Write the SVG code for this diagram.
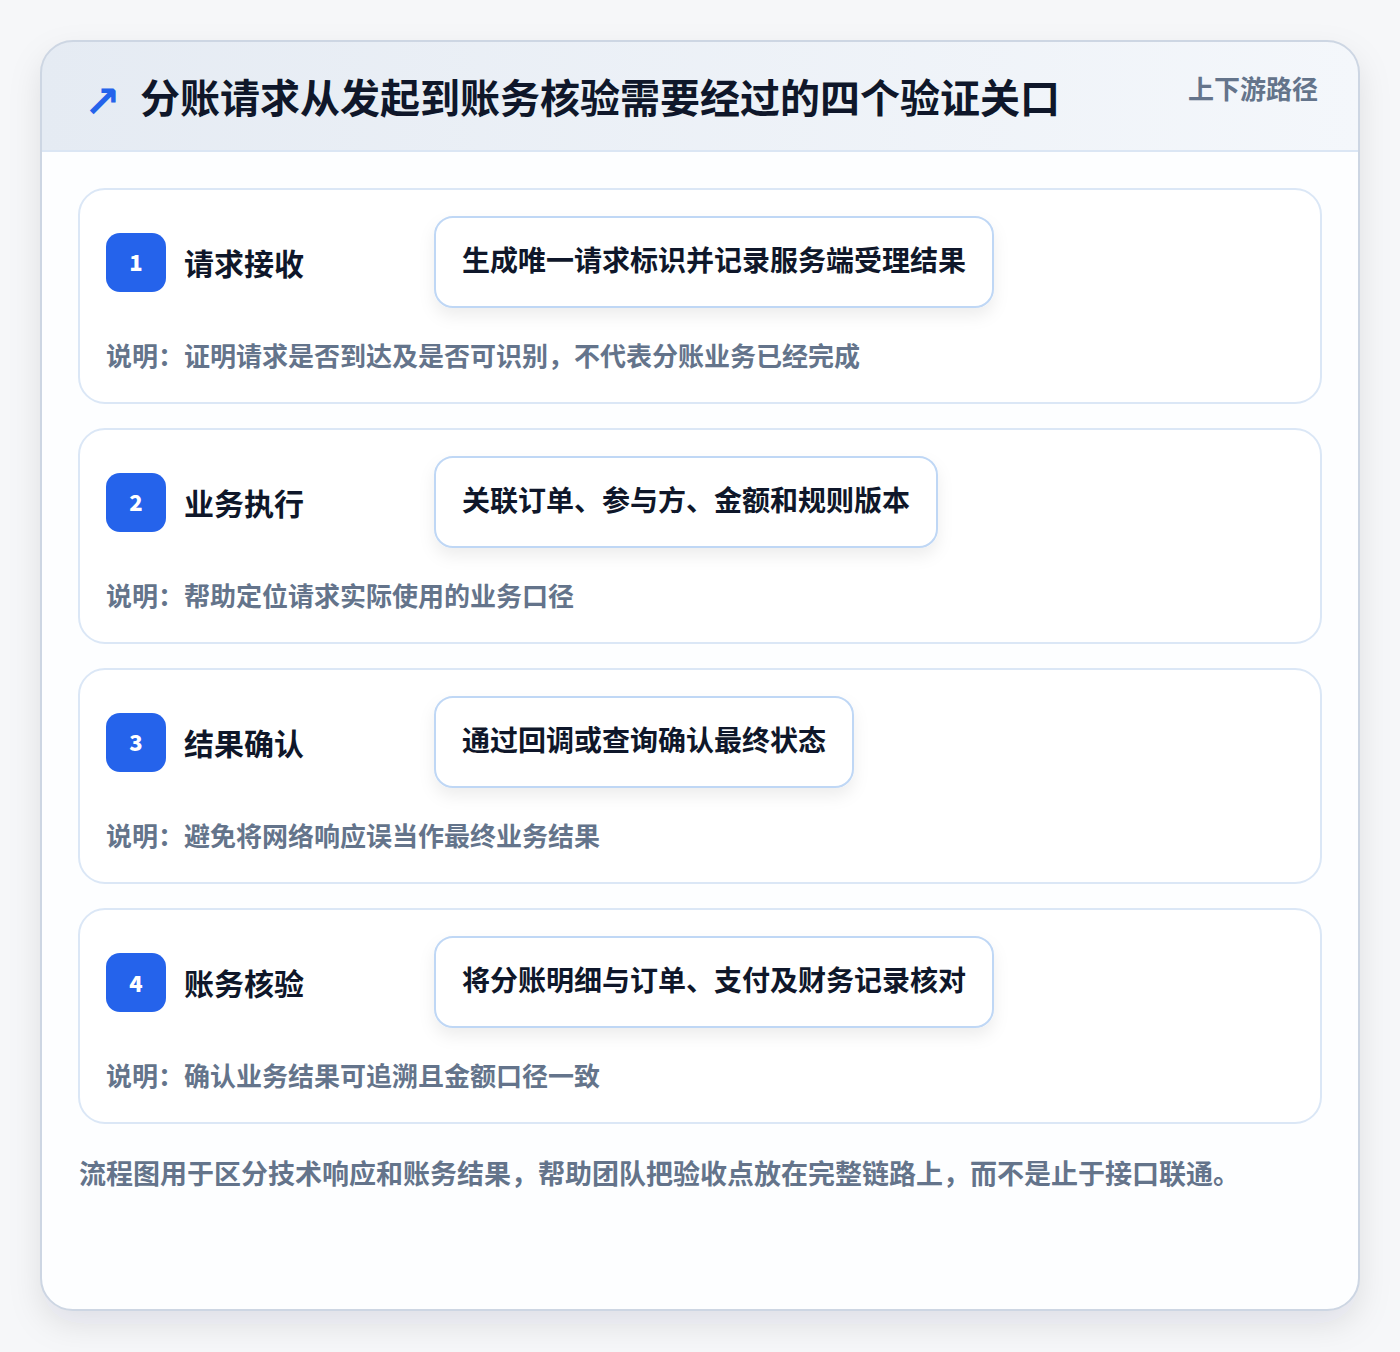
<svg xmlns="http://www.w3.org/2000/svg" width="1400" height="1352" viewBox="0 0 1400 1352">
<defs>
<linearGradient id="hdr" x1="0" y1="0" x2="1" y2="0">
<stop offset="0" stop-color="#e5ebf3"/>
<stop offset="1" stop-color="#f4f7fb"/>
</linearGradient>
<filter id="outerShadow" x="-10%" y="-10%" width="120%" height="120%">
<feDropShadow dx="0" dy="14" stdDeviation="16" flood-color="#0f172a" flood-opacity="0.10"/>
</filter>
<filter id="boxShadow" x="-10%" y="-30%" width="120%" height="170%">
<feDropShadow dx="0" dy="8" stdDeviation="8" flood-color="#0f172a" flood-opacity="0.07"/>
</filter>
<clipPath id="outerClip"><rect x="41" y="41" width="1318" height="1269" rx="32"/></clipPath>
</defs>
<style>
text{font-family:"Noto Sans CJK SC","Noto Sans",sans-serif;font-weight:700}
.card{fill:#ffffff;stroke:#dbe7f6;stroke-width:2}
.badge{fill:#2563eb}
.num{fill:#ffffff;font-size:22px;text-anchor:middle;font-weight:900}
.ttl{fill:#0f172a;font-size:30px}
.box{fill:#ffffff;stroke:#bfd7f5;stroke-width:2;filter:url(#boxShadow)}
.boxt{fill:#0f172a;font-size:28px;text-anchor:middle}
.desc{fill:#64748b;font-size:26px}
</style>
<rect x="0" y="0" width="1400" height="1352" fill="#f6f7f9"/>
<g id="frame">
<rect x="41" y="41" width="1318" height="1269" rx="32" fill="#fdfeff" filter="url(#outerShadow)"/>
<g clip-path="url(#outerClip)">
<rect x="41" y="41" width="1318" height="110" fill="url(#hdr)"/>
<line x1="41" y1="151" x2="1359" y2="151" stroke="#dbe6f4" stroke-width="2"/>
</g>
<rect x="41" y="41" width="1318" height="1269" rx="32" fill="none" stroke="#cdd6e3" stroke-width="2"/>
<text x="84" y="117" font-size="44" fill="#2563eb" style="font-family:'DejaVu Sans',sans-serif">↗</text>
<text x="140" y="113" font-size="40" fill="#0f172a">分账请求从发起到账务核验需要经过的四个验证关口</text>
<text x="1318" y="99" font-size="26" fill="#64748b" text-anchor="end">上下游路径</text>
</g>
<g id="step1">
<rect class="card" x="79" y="189" width="1242" height="214" rx="26"/>
<rect class="badge" x="106" y="233" width="60" height="59" rx="14"/>
<text class="num" x="136" y="271">1</text>
<text class="ttl" x="184" y="275">请求接收</text>
<rect class="box" x="435" y="217" width="558" height="90" rx="18"/>
<text class="boxt" x="714" y="271">生成唯一请求标识并记录服务端受理结果</text>
<text class="desc" x="106" y="366">说明：证明请求是否到达及是否可识别，不代表分账业务已经完成</text>
</g>
<g id="step2">
<rect class="card" x="79" y="429" width="1242" height="214" rx="26"/>
<rect class="badge" x="106" y="473" width="60" height="59" rx="14"/>
<text class="num" x="136" y="511">2</text>
<text class="ttl" x="184" y="515">业务执行</text>
<rect class="box" x="435" y="457" width="502" height="90" rx="18"/>
<text class="boxt" x="686" y="511">关联订单、参与方、金额和规则版本</text>
<text class="desc" x="106" y="606">说明：帮助定位请求实际使用的业务口径</text>
</g>
<g id="step3">
<rect class="card" x="79" y="669" width="1242" height="214" rx="26"/>
<rect class="badge" x="106" y="713" width="60" height="59" rx="14"/>
<text class="num" x="136" y="751">3</text>
<text class="ttl" x="184" y="755">结果确认</text>
<rect class="box" x="435" y="697" width="418" height="90" rx="18"/>
<text class="boxt" x="644" y="751">通过回调或查询确认最终状态</text>
<text class="desc" x="106" y="846">说明：避免将网络响应误当作最终业务结果</text>
</g>
<g id="step4">
<rect class="card" x="79" y="909" width="1242" height="214" rx="26"/>
<rect class="badge" x="106" y="953" width="60" height="59" rx="14"/>
<text class="num" x="136" y="992">4</text>
<text class="ttl" x="184" y="995">账务核验</text>
<rect class="box" x="435" y="937" width="558" height="90" rx="18"/>
<text class="boxt" x="714" y="991">将分账明细与订单、支付及财务记录核对</text>
<text class="desc" x="106" y="1086">说明：确认业务结果可追溯且金额口径一致</text>
</g>
<g id="connectors"></g>
<g id="footer">
<text x="79" y="1184" font-size="27" fill="#64748b">流程图用于区分技术响应和账务结果，帮助团队把验收点放在完整链路上，而不是止于接口联通。</text>
</g>
</svg>
